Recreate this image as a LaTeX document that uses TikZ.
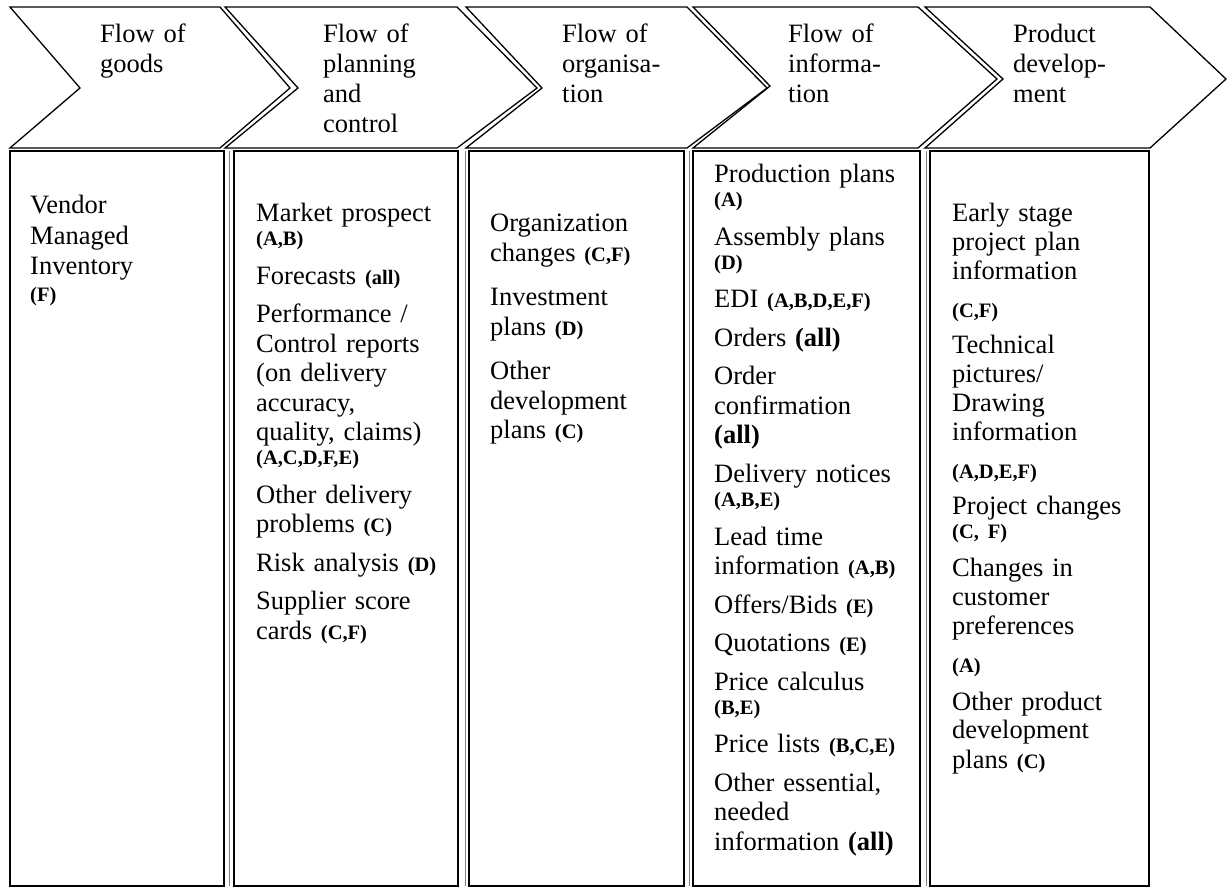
\documentclass[tikz,border=0pt]{standalone}
\usepackage{fontspec}
\setmainfont{Liberation Serif}
\tikzset{
  chev/.style={draw=black, line width=1.3pt, line join=miter},
  colbox/.style={draw=black, line width=2pt},
  edgeline/.style={draw=black!50, line width=0.9pt},
  head/.style={anchor=base west, inner sep=0pt, text width=150pt, align=left,
    font=\fontsize{26.5}{30}\selectfont},
  body/.style={anchor=base west, inner sep=0pt, text width=205pt, align=left,
    font=\fontsize{26.5}{29.5}\selectfont},
  bodytight/.style={body, font=\fontsize{26.5}{29}\selectfont},
}
% bold partner codes
\newcommand\crit[1]{{\fontsize{20.5}{29}\selectfont\bfseries #1}}
\newcommand\bigcrit[1]{{\bfseries #1}}
% paragraph gap and tight gap before a code line
\newcommand\pgap{\\[9pt]}
\newcommand\lgap{\\[-5.5pt]}
\begin{document}
\begin{tikzpicture}[x=1pt, y=-1pt]
\useasboundingbox (0,0) rectangle (1230,890);
\fill[white] (0,0) rectangle (1230,890);

% header chevrons
\draw[chev] (10,7) -- (220,7) -- (290,88) -- (220,148) -- (10,148) -- (80,88) -- cycle;
\draw[chev] (225,7) -- (457,7) -- (537,88) -- (457,148) -- (225,148) -- (298,88) -- cycle;
\draw[chev] (466,7) -- (687,7) -- (767,88) -- (687,148) -- (466,148) -- (542,88) -- cycle;
\draw[chev] (693,7) -- (918,7) -- (997,79) -- (918,148) -- (693,148) -- (770,86) -- cycle;
\draw[chev] (925,7) -- (1150,7) -- (1226,79) -- (1150,148) -- (925,148) -- (1003,79) -- cycle;

% column boxes with their thin outer rules
\draw[colbox] (10,151) rectangle (224,886);
\draw[edgeline] (229,151) -- (229,886);
\draw[colbox] (234,151) rectangle (458,886);
\draw[edgeline] (465,151) -- (465,886);
\draw[colbox] (469,151) rectangle (684,886);
\draw[edgeline] (689,151) -- (689,886);
\draw[colbox] (693,151) rectangle (920,886);
\draw[edgeline] (926,151) -- (926,886);
\draw[colbox] (930,151) rectangle (1149,886);

% header labels
\node[head] (h1) at (100,43) {Flow of\\goods};
\node[head] (h2) at (323,43) {Flow of\\planning\\and\\control};
\node[head] (h3) at (562,43) {Flow of\\organisa-\\tion};
\node[head] (h4) at (788,43) {Flow of\\informa-\\tion};
\node[head] (h5) at (1013,43) {Product\\develop-\\ment};

% column contents
\node[body] (c1) at (30,214) {Vendor\\[1pt]Managed\\[1pt]Inventory\\[-3pt]\crit{(F)}};

\node[body] (c2) at (256,222) {Market prospect\lgap
\crit{(A,B)}\pgap
Forecasts \crit{(all)}\pgap
Performance /\\
Control reports\\
(on delivery\\
accuracy,\\
quality, claims)\lgap
\crit{(A,C,D,F,E)}\pgap
Other delivery\\
problems \crit{(C)}\pgap
Risk analysis \crit{(D)}\pgap
Supplier score\\
cards \crit{(C,F)}};

\node[body] (c3) at (490,232) {Organization\\
changes \crit{(C,F)}\\[15pt]
Investment\\
plans \crit{(D)}\\[15pt]
Other\\
development\\
plans \crit{(C)}};

\node[body] (c4) at (714,183) {Production plans\lgap
\crit{(A)}\pgap
Assembly plans\lgap
\crit{(D)}\pgap
EDI \crit{(A,B,D,E,F)}\pgap
Orders \bigcrit{(all)}\pgap
Order\\
confirmation\\
\bigcrit{(all)}\pgap
Delivery notices\lgap
\crit{(A,B,E)}\pgap
Lead time\\
information \crit{(A,B)}\pgap
Offers/Bids \crit{(E)}\pgap
Quotations \crit{(E)}\pgap
Price calculus\lgap
\crit{(B,E)}\pgap
Price lists \crit{(B,C,E)}\pgap
Other essential,\\
needed\\
information \bigcrit{(all)}};

\node[bodytight] (c5) at (952,222) {Early stage\\
project plan\\
information\\[9pt]
\crit{(C,F)}\\[7pt]
Technical\\
pictures/\\
Drawing\\
information\\[9pt]
\crit{(A,D,E,F)}\\[7pt]
Project changes\\[-5pt]
\crit{(C, F)}\\[9pt]
Changes in\\
customer\\
preferences\\[9pt]
\crit{(A)}\\[8pt]
Other product\\
development\\
plans \crit{(C)}};
\end{tikzpicture}
\end{document}
